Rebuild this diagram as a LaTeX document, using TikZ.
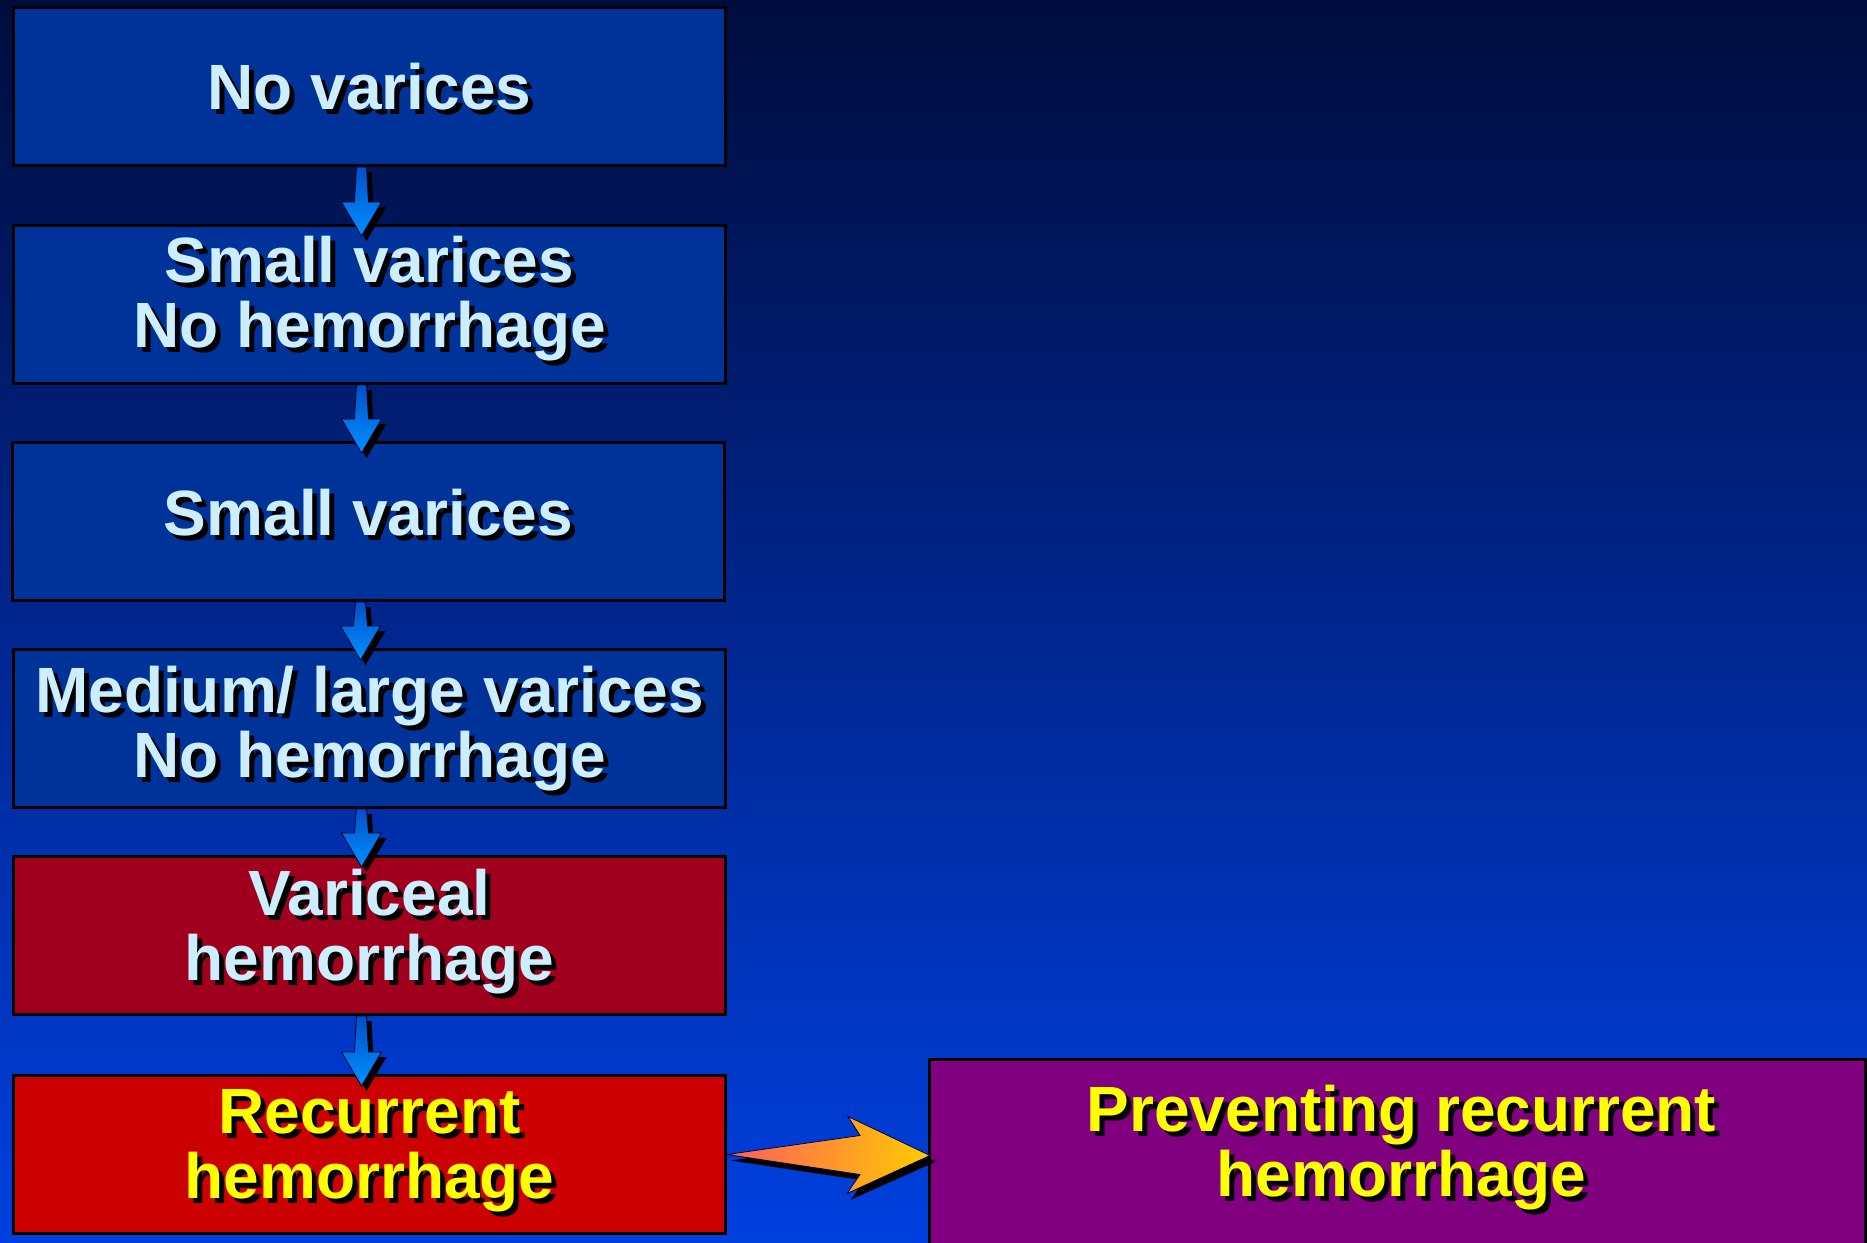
\documentclass[tikz,border=0pt]{standalone}
\usepackage{fontspec}
\setmainfont{Liberation Sans}
\usetikzlibrary{calc}
\definecolor{bgtop}{HTML}{000C3C}
\definecolor{bgmid}{HTML}{0030B4}
\definecolor{bgbot}{HTML}{0040E0}
\definecolor{boxblue}{HTML}{003399}
\definecolor{boxdred}{HTML}{A0001E}
\definecolor{boxred}{HTML}{CC0000}
\definecolor{boxpurple}{HTML}{800080}
\definecolor{txtblue}{HTML}{CCEEFF}
\definecolor{txtyellow}{HTML}{FFFF00}
\definecolor{arrtop}{HTML}{0050C8}
\definecolor{arrbot}{HTML}{0090FF}
\definecolor{harrl}{HTML}{FF5C5C}
\definecolor{harrr}{HTML}{FFCC00}
\tikzset{
  stagebox/.style={draw=black, line width=3pt, anchor=north west, minimum width=712pt, minimum height=158pt, inner sep=0pt},
  stagetxt/.style={font=\fontsize{64pt}{65pt}\selectfont\bfseries, align=center, inner sep=0pt},
  arrline/.style={draw=black!80!blue, line width=0.8pt},
}
% one line of text with a black drop shadow
\newcommand\shline[1]{\leavevmode\rlap{\kern5pt\raisebox{-5pt}[0pt][0pt]{\color{black}#1}}#1}
\newcommand\downarr[2]{% from node, to node
  \coordinate (#1#2a) at ($(#1.south)+(-8,0)$);
  \coordinate (#1#2b) at ($(#2.north)+(-8,12)$);
  \foreach \dx/\dy/\isshadow in {5/5/1,0/0/0}{
    \path let \p1=($(#1#2a)+(\dx,\dy)$), \p2=($(#1#2b)+(\dx,\dy)$) in
      \pgfextra{\ifnum\isshadow=1 \def\arrsty{fill=black}\else\def\arrsty{top color=arrtop,bottom color=arrbot,arrline}\fi}
      [style/.expand once=\arrsty]
      (\x1-5pt,\y1) -- (\x1+5pt,\y1) -- (\x1+7pt,\y2+34pt) -- (\x1+20pt,\y2+34pt)
      -- (\x1,\y2) -- (\x1-20pt,\y2+34pt) -- (\x1-7pt,\y2+34pt) -- cycle;
  }
}
\begin{document}
\begin{tikzpicture}[x=1pt,y=-1pt]
\useasboundingbox (0,0) rectangle (1867,1242);
\fill[top color=bgtop, middle color=bgmid, bottom color=bgbot] (0,0) rectangle (1867,1242);

\node[stagebox, fill=boxblue] (b1) at (12,6) {};
\node[stagebox, fill=boxblue] (b2) at (12,224) {};
\node[stagebox, fill=boxblue] (b3) at (11,441) {};
\node[stagebox, fill=boxblue] (b4) at (12,648) {};
\node[stagebox, fill=boxdred] (b5) at (12,855) {};
\node[stagebox, fill=boxred] (b6) at (12,1074) {};
\node[stagebox, fill=boxpurple, minimum width=936pt, minimum height=192pt] (b7) at (928,1058) {};

\downarr{b1}{b2}
\downarr{b2}{b3}
\downarr{b3}{b4}
\downarr{b4}{b5}
\downarr{b5}{b6}

% horizontal arrow
\coordinate (ht) at (b6.east);
\coordinate (hp) at ($(b7.west)+(2,0)$);
\fill[black] ($(ht)+(4,6)$) -- ($(hp)+(-66,-14)$) -- ($(hp)+(-78,-33)$) -- ($(hp)+(6,6)$)
  -- ($(hp)+(-79,44)$) -- ($(hp)+(-66,25)$) -- cycle;
\path[left color=harrl, right color=harrr, arrline] (ht) -- ($(hp)+(-70,-20)$) -- ($(hp)+(-82,-39)$) -- (hp)
  -- ($(hp)+(-83,38)$) -- ($(hp)+(-70,19)$) -- cycle;

\node[stagetxt, text=txtblue] (t1) at (b1) {\shline{No varices}};
\node[stagetxt, text=txtblue] (t2) at ($(b2)+(0,-6)$) {\shline{Small varices}\\\shline{No hemorrhage}};
\node[stagetxt, text=txtblue] (t3) at ($(b3)+(0,-9)$) {\shline{Small varices}};
\node[stagetxt, text=txtblue] (t4) at (b4) {\shline{Medium/ large varices}\\\shline{No hemorrhage}};
\node[stagetxt, text=txtblue] (t5) at ($(b5)+(0,-4)$) {\shline{Variceal}\\\shline{hemorrhage}};
\node[stagetxt, text=txtyellow] (t6) at ($(b6)+(0,-4)$) {\shline{Recurrent}\\\shline{hemorrhage}};
\node[stagetxt, text=txtyellow] (t7) at ($(b7.center)+(4,-8)$) {\shline{Preventing recurrent}\\\shline{hemorrhage}};
\end{tikzpicture}
\end{document}
